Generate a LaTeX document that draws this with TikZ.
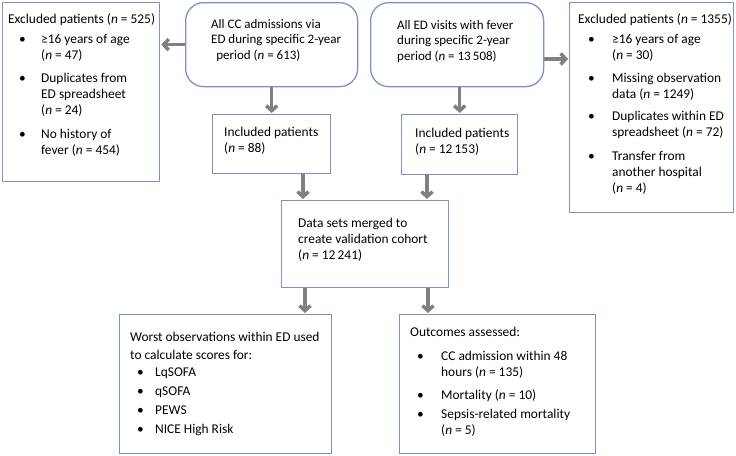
\documentclass[tikz,border=0pt]{standalone}
\usepackage{fontspec}
\setmainfont{Carlito}
\usetikzlibrary{arrows.meta,calc}
\definecolor{boxline}{RGB}{122,146,198}
\definecolor{arrgray}{RGB}{128,128,128}
\newcommand\bl[2]{\hspace*{#1}\makebox[\dimexpr#2-#1\relax][l]{\textbullet}}
\newcommand\ct[1]{\hspace*{#1}}
\newcommand\nn{\textit{n}}
\begin{document}
\begin{tikzpicture}[x=1pt,y=-1pt,
  box/.style={draw=boxline,line width=1.3pt,fill=white,anchor=north west,inner sep=0pt},
  rbox/.style={box,rounded corners=18pt},
  txt/.style={anchor=north west,inner sep=0pt,align=left,font=\fontsize{13.4}{16}\selectfont},
  arr/.style={draw=arrgray,line width=3.5pt,-{Straight Barb[length=5pt,width=11pt]},shorten >=1pt}]
\useasboundingbox (0,0) rectangle (736,455);
\fill[white] (0,0) rectangle (736,455);
% boxes
\node[box,minimum width=157pt,minimum height=179pt] (exL) at (2,2) {};
\node[rbox,minimum width=172pt,minimum height=84pt] (cc) at (185,2) {};
\node[rbox,minimum width=173pt,minimum height=84pt] (ed) at (370,2) {};
\node[box,minimum width=164pt,minimum height=210pt] (exR) at (569,2) {};
\node[box,minimum width=118pt,minimum height=59pt] (inL) at (212,114) {};
\node[box,minimum width=116pt,minimum height=60pt] (inR) at (401,114) {};
\node[box,minimum width=167pt,minimum height=87pt] (merge) at (281,200) {};
\node[box,minimum width=212pt,minimum height=139pt] (scores) at (119,314) {};
\node[box,minimum width=196pt,minimum height=139pt] (outc) at (399,314) {};
% texts
\node[txt] (exLt) at (8,13) {Excluded patients (\nn{} = 525)\\[4pt]
\bl{11pt}{33pt}≥16 years of age\\
\ct{33pt}(\nn{} = 47)\\[7pt]
\bl{11pt}{33pt}Duplicates from\\
\ct{33pt}ED spreadsheet\\
\ct{33pt}(\nn{} = 24)\\[8pt]
\bl{11pt}{33pt}No history of\\
\ct{33pt}fever (\nn{} = 454)};
\node[txt,font=\fontsize{13}{15.5}\selectfont] (cct) at (211,19) {All CC admissions via\\ED during specific 2-year\\\ \,period (\nn{} = 613)};
\node[txt,font=\fontsize{13}{15.5}\selectfont] (edt) at (397,20) {All ED visits with fever\\during specific 2-year\\period (\nn{} = 13\,508)};
\node[txt] (exRt) at (578,13) {Excluded patients (\nn{} = 1355)\\[4pt]
\bl{10pt}{34pt}≥16 years of age\\
\ct{34pt}(\nn{} = 30)\\[7pt]
\bl{10pt}{34pt}Missing observation\\
\ct{34pt}data (\nn{} = 1249)\\[6pt]
\bl{10pt}{34pt}Duplicates within ED\\
\ct{34pt}spreadsheet (\nn{} = 72)\\[8pt]
\bl{10pt}{34pt}Transfer from\\
\ct{34pt}another hospital\\
\ct{34pt}(\nn{} = 4)};
\node[txt] (inLt) at (224,127) {Included patients\\(\nn{} = 88)};
\node[txt] (inRt) at (415,128) {Included patients\\(\nn{} = 12\,153)};
\node[txt] (merget) at (298,218) {Data sets merged to\\create validation cohort\\(\nn{} = 12\,241)};
\node[txt] (scorest) at (130,332) {Worst observations within ED used\\[2pt]
to calculate scores for:\\[1pt]
\bl{7pt}{25pt}LqSOFA\\[3pt]
\bl{7pt}{25pt}qSOFA\\[3pt]
\bl{7pt}{25pt}PEWS\\[3pt]
\bl{7pt}{25pt}NICE High Risk};
\node[txt] (outct) at (410,327) {Outcomes assessed:\\[8pt]
\bl{7pt}{31pt}CC admission within 48\\
\ct{31pt}hours (\nn{} = 135)\\[7pt]
\bl{7pt}{31pt}Mortality (\nn{} = 10)\\[3pt]
\bl{7pt}{31pt}Sepsis-related mortality\\
\ct{31pt}(\nn{} = 5)};
% coordinates
\coordinate (c1) at (303,0);
\coordinate (c2) at (427,0);
\coordinate (c3) at (305,0);
\coordinate (c4) at (428,0);
\coordinate (c5) at (0,59);
% arrows
\draw[arr] (cc.west) -- (cc.west -| exL.east);
\draw[arr] (ed.east |- c5) -- (exR.west |- c5);
\draw[arr] (cc.south) -- (inL.north);
\draw[arr] (ed.south -| inR.north) -- (inR.north);
\draw[arr] (inL.south -| c1) -- (merge.north -| c1);
\draw[arr] (inR.south -| c2) -- (merge.north -| c2);
\draw[arr] (merge.south -| c3) -- (scores.north -| c3);
\draw[arr] (merge.south -| c4) -- (outc.north -| c4);
\end{tikzpicture}
\end{document}
